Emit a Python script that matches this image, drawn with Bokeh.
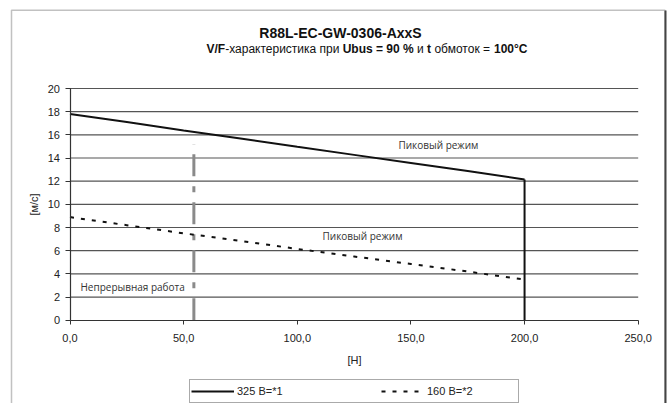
from bokeh.plotting import figure
from bokeh.models import (Label, Legend, LegendItem, BoxAnnotation, FixedTicker,
                          Range1d)
from bokeh.core.properties import value
from bokeh.embed import file_html
from bokeh.resources import INLINE

# ---- data ----
force = [0, 25, 50, 75, 100, 125, 150, 175, 200]
speed_325 = [17.8, 17.1, 16.38, 15.68, 14.97, 14.27, 13.57, 12.87, 12.15]
speed_160 = [8.9, 8.2, 7.5, 6.85, 6.15, 5.5, 4.85, 4.2, 3.5]
limit_force = [200, 200]
limit_speed = [12.15, 0]
cont_force = [54.5, 54.5]
cont_speed = [0, 15.2]
x_ticks = [0, 50, 100, 150, 200, 250]
x_tick_labels = ["0,0", "50,0", "100,0", "150,0", "200,0", "250,0"]
y_ticks = [0, 2, 4, 6, 8, 10, 12, 14, 16, 18, 20]
series_labels = ["325 В=*1", "160 В=*2"]
title = "R88L-EC-GW-0306-AxxS"
subtitle_parts = [("V/F", "bold"), ("-характеристика при", "normal"),
                  ("Ubus = 90 %", "bold"), ("и", "normal"), ("t", "bold"),
                  ("обмоток =", "normal"), ("100°C", "bold")]
region_labels = ["Пиковый режим", "Пиковый режим", "Непрерывная работа"]
region_x = [162.1, 128.7, 4.6]
region_y = [15.08, 7.31, 2.85]

W, H = 669, 403
# plot-area placement on the canvas (pixels)
AX_L, AX_R, AX_T, AX_B = 69.5, 637.7, 88.0, 319.7
kx = (AX_R - AX_L) / 250.0
ky = (AX_B - AX_T) / 20.0
x_lo, x_hi = -AX_L / kx, 250 + (W - AX_R) / kx
y_lo, y_hi = -(H - AX_B) / ky, 20 + AX_T / ky

p = figure(width=W, height=H, output_backend="svg", toolbar_location=None,
           x_range=Range1d(x_lo, x_hi), y_range=Range1d(y_lo, y_hi),
           min_border=0)
p.outline_line_color = None
p.background_fill_color = "white"
p.border_fill_color = "white"
p.xgrid.visible = False
p.ygrid.visible = False

for ax in (p.xaxis[0], p.yaxis[0]):
    ax.fixed_location = 0
    ax.axis_line_color = "#333333"
    ax.axis_line_width = 1.2
    ax.major_tick_line_color = "#333333"
    ax.major_tick_in = 0
    ax.minor_tick_line_color = None
    ax.major_label_text_font = "Liberation Sans"
    ax.major_label_text_font_size = "11px"
    ax.major_label_text_color = "#222222"
    ax.axis_label_text_font = "Liberation Sans"
    ax.axis_label_text_font_size = "11px"
    ax.axis_label_text_font_style = "normal"
    ax.axis_label_text_color = "#222222"

p.xaxis.ticker = FixedTicker(ticks=x_ticks)
p.xaxis.bounds = (0, 250)
p.xaxis.major_label_overrides = {t: l for t, l in zip(x_ticks, x_tick_labels)}
p.xaxis.major_tick_out = 4
p.xaxis.major_label_standoff = 10
p.xaxis.axis_label = "[Н]"
p.xaxis.axis_label_standoff = 8

p.yaxis.ticker = FixedTicker(ticks=y_ticks)
p.yaxis.bounds = (0, 20)
p.yaxis.major_tick_out = 5
p.yaxis.major_label_standoff = 5
p.yaxis.axis_label = "[м/с]"
p.yaxis.axis_label_standoff = 5

# horizontal gridlines across the plotted force range
p.segment(x0=x_ticks[0], x1=x_ticks[-1], y0=y_ticks[1:], y1=y_ticks[1:],
          line_color="#555555", line_width=1.2)

# continuous-operation boundary (gray dash-dot)
p.line(cont_force, cont_speed, line_color="#8a8a8a", line_width=3,
       line_dash="22 10 6 10")

r1 = p.line(force, speed_325, line_color="#111111", line_width=2)
p.line(limit_force, limit_speed, line_color="#111111", line_width=2)
r2 = p.line(force, speed_160, line_color="#111111", line_width=2,
            line_dash="4 7")

p.text(x=region_x, y=region_y, text=region_labels,
       text_font=value("Open Sans"), text_font_size="10px",
       text_color="#333333",
       text_align=["center", "center", "left"], text_baseline="middle")

# page pixel -> screen units (frame covers the whole canvas)
def sx(px):
    return px

def sy(py):
    return H - py

# outer frame
p.add_layout(BoxAnnotation(left=sx(11), right=sx(664.5), top=sy(9.8), bottom=sy(430),
                           left_units="screen", right_units="screen",
                           top_units="screen", bottom_units="screen",
                           fill_alpha=0, line_color="#333333", line_width=1.5,
                           level="overlay"))
p.add_layout(BoxAnnotation(left=sx(664), right=sx(666), top=sy(10), bottom=sy(430),
                           left_units="screen", right_units="screen",
                           top_units="screen", bottom_units="screen",
                           fill_color="#444444", fill_alpha=1, line_color=None,
                           level="overlay"))

# title
p.add_layout(Label(x=sx(340), y=sy(32.5), x_units="screen", y_units="screen",
                   text=title, text_font="Liberation Sans", text_font_size="14px",
                   text_font_style="bold", text_color="#111111",
                   text_align="center", text_baseline="middle"))

# subtitle with mixed weights: chain segments using Arial-compatible advance widths
ADV = {
    " ": .278, "-": .333, "/": .278, "=": .584, "%": .889, "°": .4,
    "0": .556, "1": .556, "9": .556,
    "V": .667, "F": .611, "U": .722, "C": .722,
    "b": .611, "u": .611, "s": .556, "t": .333,
    "х": .5, "а": .556, "р": .556, "к": .438, "т": .458, "е": .556, "и": .559,
    "с": .5, "п": .542, "о": .556, "б": .573, "м": .688,
}
SUB_FS = 12.0
def seg_width(s):
    return sum(ADV.get(c, .55) for c in s) * SUB_FS

total = sum(seg_width(s) for s, _ in subtitle_parts) + \
    ADV[" "] * SUB_FS * (len(subtitle_parts) - 2)
cx = 366.5 - total / 2
for i, (txt, style) in enumerate(subtitle_parts):
    p.add_layout(Label(x=sx(cx), y=sy(48), x_units="screen", y_units="screen",
                       text=txt, text_font="Liberation Sans",
                       text_font_size=f"{SUB_FS}px",
                       text_font_style=style, text_color="#111111",
                       text_align="left", text_baseline="middle"))
    cx += seg_width(txt)
    if i >= 1:
        cx += ADV[" "] * SUB_FS

legend = Legend(items=[LegendItem(label=series_labels[0], renderers=[r1]),
                       LegendItem(label=series_labels[1], renderers=[r2])],
                orientation="horizontal", location=(sx(189), sy(403)),
                glyph_width=43, glyph_height=20, label_width=90,
                label_standoff=3, spacing=54, padding=1, margin=0,
                border_line_color="#555555", border_line_width=1.2,
                background_fill_color="white", background_fill_alpha=1,
                label_text_font="Liberation Sans", label_text_font_size="11px",
                label_text_color="#222222")
p.add_layout(legend, "center")

open("out.html", "w").write(file_html(p, INLINE))
